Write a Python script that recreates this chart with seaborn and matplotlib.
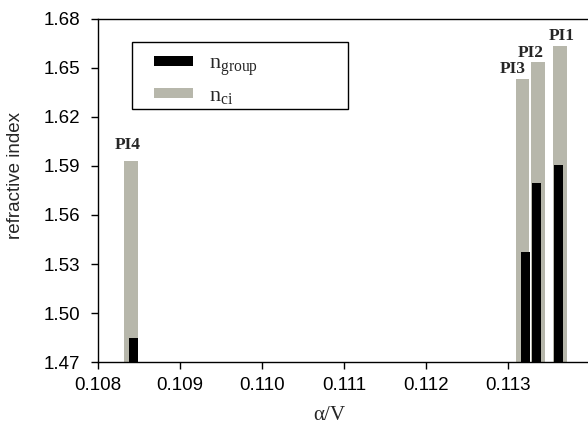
import matplotlib
matplotlib.use('Agg')
import matplotlib.pyplot as plt
from matplotlib.patches import Rectangle
import seaborn as sns
import numpy as np

# bars (x = alpha/V, y = refractive index)
labels = ['PI4', 'PI3', 'PI2', 'PI1']
x_ci = [0.10840, 0.11317, 0.11336, 0.11363]
n_ci = [1.5930, 1.6430, 1.6535, 1.6637]
x_group = [0.10843, 0.11321, 0.11334, 0.11361]
n_group = [1.4845, 1.5372, 1.5794, 1.5906]

yticks = [1.47, 1.50, 1.53, 1.56, 1.59, 1.62, 1.65, 1.68]
xticks = [0.108, 0.109, 0.110, 0.111, 0.112, 0.113]

gray = '#b7b7ab'
sns.set_style('ticks')
plt.rcParams['font.family'] = ['Liberation Sans', 'DejaVu Sans']
plt.rcParams['mathtext.fontset'] = 'custom'
plt.rcParams['mathtext.rm'] = 'Liberation Serif'
plt.rcParams['mathtext.it'] = 'Liberation Serif:italic'

fig = plt.figure(figsize=(5.88, 4.30), dpi=100)
ax = fig.add_axes([0.1667, 0.158, 0.8333, 0.798])


def rel_width(xs, w):
    # seaborn scales width by the smallest gap between positions
    return w / np.diff(np.unique(xs)).min()


sns.barplot(x=x_ci, y=n_ci, native_scale=True, orient='x', errorbar=None,
            width=rel_width(x_ci, 0.000165), color=gray, saturation=1,
            linewidth=0, label=r'$\mathrm{n}_{\mathrm{ci}}$', ax=ax)
sns.barplot(x=x_group, y=n_group, native_scale=True, orient='x', errorbar=None,
            width=rel_width(x_group, 0.00011), color='black', saturation=1,
            linewidth=0, label=r'$\mathrm{n}_{\mathrm{group}}$', ax=ax)

ax.set_xlim(0.108, 0.11397)
ax.set_ylim(1.47, 1.68)
ax.set_xticks(xticks)
ax.set_xticklabels([f'{v:.3f}' for v in xticks])
ax.set_yticks(yticks)
ax.set_yticklabels([f'{v:.2f}' for v in yticks])
ax.tick_params(labelsize=13.5, length=5, width=1, color='black',
               labelcolor='black', pad=8)
ax.tick_params(axis='x', pad=6)
for s in ['left', 'bottom', 'top']:
    ax.spines[s].set_color('black')
    ax.spines[s].set_linewidth(1)
ax.spines['right'].set_visible(False)

ax.set_xlabel(r'$\mathrm{\alpha/V}$', fontsize=15)
ax.xaxis.set_label_coords(0.473, -0.125)
ax.set_ylabel('refractive index', fontsize=13.5)
ax.yaxis.set_label_coords(-0.152, 0.545)

# PI labels just above the gray bars
offsets = [(-3, 16), (-10, 10), (-7, 9), (2, 10)]
for lab, xv, yv, off in zip(labels, x_ci, n_ci, offsets):
    ax.annotate(lab, (xv, yv), xytext=off, textcoords='offset pixels',
                ha='center', va='center', fontsize=12.5, fontweight='bold',
                family='Liberation Serif', annotation_clip=False)

# legend without its own frame, box drawn separately
h, l = ax.get_legend_handles_labels()
ax.legend(h[::-1], l[::-1], loc='upper left', bbox_to_anchor=(0.114, 0.90),
          borderaxespad=0, borderpad=0, fontsize=16, handlelength=1.75,
          handleheight=0.3, handletextpad=0.75, labelspacing=0.3,
          frameon=False)
ax.add_patch(Rectangle((0.069, 0.738), 0.441, 0.195, transform=ax.transAxes,
                       facecolor='none', edgecolor='black', linewidth=1,
                       zorder=5))

fig.savefig('out.png', dpi=100)
